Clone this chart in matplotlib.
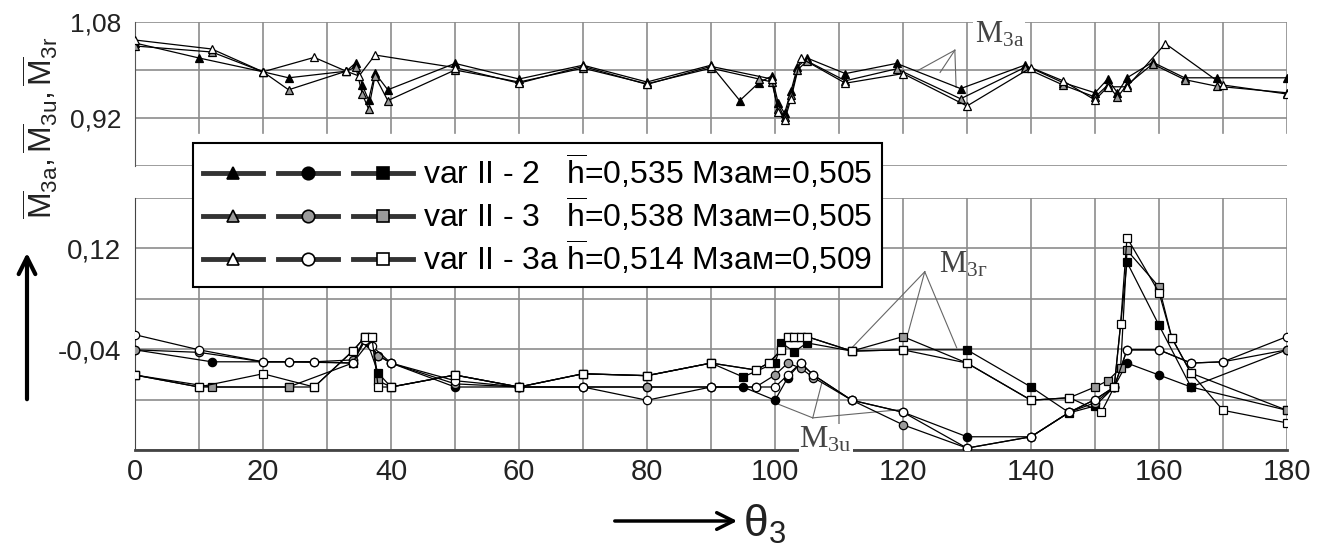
import matplotlib
matplotlib.use("Agg")
import matplotlib.pyplot as plt
from matplotlib.lines import Line2D
from matplotlib.legend_handler import HandlerTuple

plt.rcParams['font.family'] = ['Liberation Sans', 'DejaVu Sans']
plt.rcParams['mathtext.fontset'] = 'custom'
plt.rcParams['mathtext.rm'] = 'Liberation Sans'
plt.rcParams['mathtext.it'] = 'Liberation Sans:italic'

# --- M3a (top panel, triangles) ---
ta2_x = [0, 10, 20, 24, 33, 34.5, 35.5, 36.5, 37.5, 39.5, 50, 60, 70, 80, 90, 94.5, 97.5, 99.5, 100.5, 101.5,
         102.5, 103.5, 105, 111, 119, 129, 139, 145, 150, 152, 153.5, 155, 159, 164, 169, 180]
ta2_y = [1.045, 1.02, 0.997, 0.987, 0.998, 1.012, 0.975, 0.95, 0.995, 0.967, 1.011, 0.985, 1.008, 0.98, 1.008,
         0.949, 0.979, 0.99, 0.945, 0.928, 0.965, 1.005, 1.02, 0.994, 1.011, 0.969, 1.008, 0.979, 0.962, 0.985,
         0.962, 0.987, 1.013, 0.987, 0.987, 0.987]
ta3_x = [0, 12, 20, 24, 33, 34.5, 35.5, 36.5, 37.5, 39.5, 50, 60, 70, 80, 90, 97.5, 99.5, 100.5, 101.5, 102.5,
         103.5, 105, 111, 119, 129, 139, 145, 150, 152, 153.5, 155, 159, 164, 169, 180]
ta3_y = [1.04, 1.03, 0.997, 0.967, 0.998, 1.005, 0.96, 0.935, 0.99, 0.949, 1.0, 0.98, 1.003, 0.977, 1.003, 0.985,
         0.98, 0.935, 0.922, 0.958, 1.0, 1.015, 0.982, 1.002, 0.952, 1.004, 0.975, 0.955, 0.975, 0.955, 0.975,
         1.01, 0.984, 0.973, 0.962]
ta3a_x = [0, 12, 20, 28, 33, 35, 37.5, 50, 60, 70, 80, 90, 99.5, 100.5, 101.5, 102.5, 104, 111, 120, 130, 140,
          145, 150, 152, 155, 161, 170, 180]
ta3a_y = [1.05, 1.035, 0.997, 1.021, 0.998, 0.99, 1.025, 1.004, 0.978, 1.006, 0.976, 1.006, 0.985, 0.93, 0.916,
          0.952, 1.02, 0.978, 0.994, 0.94, 1.004, 0.982, 0.95, 0.972, 0.972, 1.044, 0.975, 0.96]

# --- M3u (bottom panel, circles) ---
cu2_x = [0, 12, 24, 34, 36.5, 38, 40, 50, 60, 70, 80, 90, 95, 100, 102, 104, 106, 112, 120, 130, 140, 146, 150,
         153, 155, 160, 165, 180]
cu2_y = [-0.041, -0.06, -0.06, -0.062, -0.03, -0.05, -0.062, -0.1, -0.1, -0.1, -0.1, -0.1, -0.1, -0.121, -0.085,
         -0.062, -0.081, -0.121, -0.14, -0.179, -0.179, -0.14, -0.12, -0.1, -0.062, -0.081, -0.1, -0.041]
cu3_x = [0, 10, 20, 28, 34, 36, 38, 40, 50, 60, 70, 80, 90, 97, 100, 102, 104, 106, 112, 120, 130, 140, 146, 150,
         153, 155, 160, 165, 170, 180]
cu3_y = [-0.041, -0.045, -0.06, -0.06, -0.057, -0.025, -0.05, -0.062, -0.095, -0.1, -0.1, -0.1, -0.1, -0.1,
         -0.081, -0.062, -0.07, -0.085, -0.121, -0.16, -0.197, -0.179, -0.14, -0.125, -0.1, -0.041, -0.041,
         -0.062, -0.06, -0.041]
cu3a_x = [0, 10, 20, 24, 28, 34, 36, 37, 40, 50, 60, 70, 80, 90, 97, 100, 102, 104, 106, 112, 120, 130, 140, 146,
          150, 153, 155, 160, 165, 170, 180]
cu3a_y = [-0.017, -0.041, -0.06, -0.06, -0.06, -0.062, -0.025, -0.035, -0.062, -0.09, -0.1, -0.1, -0.121, -0.1,
          -0.1, -0.1, -0.081, -0.062, -0.081, -0.121, -0.14, -0.197, -0.179, -0.14, -0.12, -0.1, -0.041, -0.041,
          -0.062, -0.06, -0.02]

# --- M3r (bottom panel, squares) ---
sr2_x = [0, 10, 24, 34, 36, 38, 40, 50, 60, 70, 80, 90, 95, 100, 101, 103, 105, 112, 120, 130, 140, 146, 150,
         153, 155, 160, 165, 180]
sr2_y = [-0.081, -0.1, -0.1, -0.062, -0.02, -0.078, -0.1, -0.081, -0.1, -0.079, -0.082, -0.062, -0.084, -0.062,
         -0.03, -0.044, -0.03, -0.043, -0.041, -0.041, -0.1, -0.141, -0.13, -0.1, 0.098, -0.002, -0.1, -0.137]
sr3_x = [0, 12, 24, 28, 34, 36, 37, 38, 40, 50, 60, 70, 80, 90, 97, 99, 101, 102, 103, 104, 105, 112, 120, 130,
         140, 146, 150, 152, 154, 155, 160, 162, 165, 180]
sr3_y = [-0.081, -0.1, -0.1, -0.1, -0.043, -0.02, -0.02, -0.09, -0.1, -0.081, -0.1, -0.079, -0.082, -0.062,
         -0.073, -0.062, -0.041, -0.02, -0.02, -0.02, -0.02, -0.043, -0.02, -0.062, -0.121, -0.117, -0.1, -0.09,
         -0.07, 0.117, 0.059, -0.022, -0.078, -0.137]
sr3a_x = [0, 10, 20, 28, 34, 36, 37, 38, 40, 50, 60, 70, 80, 90, 97, 99, 101, 102, 103, 104, 105, 112, 120, 130,
          140, 146, 151, 153, 154, 155, 160, 162, 165, 170, 180]
sr3a_y = [-0.081, -0.1, -0.079, -0.1, -0.043, -0.02, -0.02, -0.1, -0.1, -0.081, -0.1, -0.079, -0.082, -0.062,
          -0.073, -0.062, -0.041, -0.02, -0.02, -0.02, -0.02, -0.043, -0.041, -0.062, -0.121, -0.117, -0.14, -0.1,
          0.0, 0.137, 0.05, -0.022, -0.078, -0.137, -0.157]

variants = ["var II - 2   ", "var II - 3   ", "var II - 3a "]
h_vals = ["0,535", "0,538", "0,514"]
mzam_vals = ["0,505", "0,505", "0,509"]
fills = ["black", "#9a9a9a", "white"]

fig = plt.figure(figsize=(13.3, 5.51), dpi=100)
W, H = 1330, 551
ax_t = fig.add_axes([135 / W, 1 - 166 / H, 1152 / W, 144 / H])
ax_b = fig.add_axes([135 / W, 1 - 450 / H, 1152 / W, 252 / H])

grid_c = "#8c8c8c"
line_kw = dict(color="black", lw=0.9, markersize=6, markeredgecolor="black", markeredgewidth=0.9)

top_series = [(ta2_x, ta2_y), (ta3_x, ta3_y), (ta3a_x, ta3a_y)]
circ_series = [(cu2_x, cu2_y), (cu3_x, cu3_y), (cu3a_x, cu3a_y)]
sq_series = [(sr2_x, sr2_y), (sr3_x, sr3_y), (sr3a_x, sr3a_y)]

for i in range(3):
    ax_t.plot(*top_series[i], marker="^", markerfacecolor=fills[i], zorder=3, **line_kw)
    ax_b.plot(*circ_series[i], marker="o", markerfacecolor=fills[i], zorder=3, **line_kw)
    ax_b.plot(*sq_series[i], marker="s", markerfacecolor=fills[i], zorder=3, **line_kw)

# top panel axes
ax_t.set_xlim(0, 180)
ax_t.set_ylim(0.84, 1.08)
ax_t.set_yticks([0.84, 0.92, 1.00, 1.08])
ax_t.set_yticklabels(["", "0,92", "", "1,08"])
ax_t.set_xticks(range(0, 181, 10))
ax_t.set_xticklabels([])
ax_t.grid(axis="y", color=grid_c, lw=1.2)
for xv in range(10, 181, 10):
    ax_t.axvline(xv, ymin=0.23, ymax=1, color=grid_c, lw=1.2, zorder=0)
for s in ["top", "right", "bottom"]:
    ax_t.spines[s].set_visible(False)
ax_t.spines["left"].set_color("#555555")
ax_t.tick_params(length=0, labelsize=19, pad=10, colors="#222222")

# bottom panel axes
ax_b.set_xlim(0, 180)
ax_b.set_ylim(-0.20, 0.20)
ax_b.set_yticks([-0.20, -0.12, -0.04, 0.04, 0.12, 0.20])
ax_b.set_yticklabels(["", "", "-0,04", "", "0,12", ""])
ax_b.set_xticks(range(0, 181, 10))
ax_b.set_xticklabels([str(v) if v % 20 == 0 else "" for v in range(0, 181, 10)])
ax_b.grid(color=grid_c, lw=1.2)
ax_b.set_axisbelow(True)
for s in ["top", "right"]:
    ax_b.spines[s].set_visible(False)
ax_b.spines["bottom"].set_linewidth(2)
ax_b.spines["bottom"].set_color("#444444")
ax_b.spines["left"].set_color("#444444")
ax_b.tick_params(axis="y", length=0, labelsize=20, pad=10, colors="#222222")
ax_b.tick_params(axis="x", length=0, labelsize=21, pad=6, colors="#222222")

# leader-line annotations
ser = ["Liberation Serif", "DejaVu Serif"]
ax_t.text(131.2, 1.058, r"M$\mathregular{_{3a}}$", family=ser, fontsize=22, color="#444444",
          va="center", ha="left", bbox=dict(fc="white", ec="none", pad=1), zorder=4)
for ex, ey in [(122.3, 0.999), (125.8, 0.996), (128.3, 0.971)]:
    ax_t.plot([128.1, ex], [1.033, ey], color="#666666", lw=0.8, zorder=2)

ax_b.text(125.6, 0.094, r"M$\mathregular{_{3г}}$", family=ser, fontsize=22, color="#444444",
          va="center", ha="left", zorder=4)
for ex, ey in [(111.7, -0.041), (120.8, -0.014), (128.4, -0.038)]:
    ax_b.plot([123.4, ex], [0.083, ey], color="#666666", lw=0.8, zorder=2)

ax_b.text(103.8, -0.183, r"M$\mathregular{_{3u}}$", family=ser, fontsize=23, color="#444444",
          va="center", ha="left", bbox=dict(fc="white", ec="none", pad=0.5), zorder=4, clip_on=False)
for ex, ey in [(99.7, -0.124), (107.3, -0.094), (119.5, -0.136)]:
    ax_b.plot([105.9, ex], [-0.149, ey], color="#666666", lw=0.8, zorder=2)

# legend
handles, labels = [], []
for i in range(3):
    trio = tuple(Line2D([], [], color="#333333", lw=3.5, marker=m, markersize=9,
                        markerfacecolor=fills[i], markeredgecolor="black", markeredgewidth=1.2)
                 for m in ["^", "o", "s"])
    handles.append(trio)
    labels.append(variants[i] + r"$\overline{\mathregular{h}}$=" + h_vals[i] + " Mзам=" + mzam_vals[i])
leg = fig.legend(handles, labels, handler_map={tuple: HandlerTuple(ndivide=None, pad=0.45)},
                 loc="upper left", bbox_to_anchor=(193 / W, 1 - 143 / H), borderaxespad=0,
                 fontsize=23, handlelength=6.6, handletextpad=0.3, labelspacing=0.12, borderpad=0.3,
                 frameon=True, fancybox=False, edgecolor="black", framealpha=1)
leg.get_frame().set_linewidth(1.5)

# axis titles with arrows
fig.text(40 / W, 1 - 128 / H, r"$\overline{\mathregular{M}}_{\mathregular{3a}},\overline{\mathregular{M}}_{\mathregular{3u}},\overline{\mathregular{M}}_{\mathregular{3r}}$",
         rotation=90, fontsize=23, ha="center", va="center", color="#222222")
fig.patches.append(matplotlib.patches.FancyArrowPatch((27 / W, 1 - 402 / H), (27 / W, 1 - 250 / H),
                   transform=fig.transFigure, arrowstyle="->,head_width=6,head_length=12", lw=3, color="black"))
fig.patches.append(matplotlib.patches.FancyArrowPatch((612 / W, 1 - 521 / H), (740 / W, 1 - 521 / H),
                   transform=fig.transFigure, arrowstyle="->,head_width=6,head_length=12", lw=2.5, color="black"))
fig.text(743 / W, 1 - 524 / H, r"θ$\mathregular{_3}$", fontsize=32, ha="left", va="center", color="#222222")

fig.savefig("out.png", dpi=100)
